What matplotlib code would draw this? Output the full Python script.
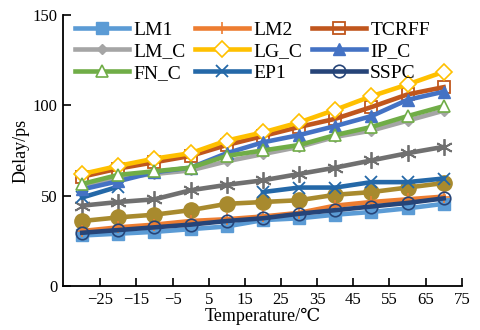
import numpy as np
import matplotlib
matplotlib.use("Agg")
import matplotlib.pyplot as plt

plt.rcParams['font.family'] = ['Liberation Serif', 'DejaVu Serif', 'DejaVu Sans', 'Noto Sans CJK SC']
plt.rcParams['mathtext.fontset'] = 'stix'

temps = [-30, -20, -10, 0, 10, 20, 30, 40, 50, 60, 70]
lm1 = [28, 29, 30, 31.5, 33, 36.5, 37.5, 39.5, 41, 43, 45.5]
lm2 = [30.5, 32.5, 34, 36, 37, 38.5, 40.5, 44.5, 46.5, 48, 49.5]
tcrff = [60.5, 65, 68.5, 72, 78, 83, 88, 92.5, 99, 106, 110]
lm_c = [55, 60, 62, 64, 69, 73, 77, 82.5, 86, 91.5, 97]
lg_c = [62, 66.5, 70.5, 73.5, 80.5, 85, 90.5, 97.5, 105, 111.5, 118.5]
ip_c = [53.5, 58, 63, 65.5, 73.5, 79.5, 83.5, 88.5, 94, 103, 107.5]
fn_c = [56.5, 61.5, 63.5, 65.5, 72, 75, 78, 83.5, 88, 94, 99.5]
ep1 = [49, 55, np.nan, np.nan, np.nan, 52, 54.5, 54.5, 57.5, 57.5, 59.5]
sspc = [29.5, 31, 32.5, 34, 36, 37.5, 40, 42, 44, 46, 48.5]
extra_gray = [44.5, 46.5, 48, 53, 56, 58.5, 62, 65.5, 69.5, 73.5, 77]
extra_gold = [36, 38, 39.5, 42, 45.5, 46.5, 47.5, 50.5, 52, 54.5, 57]

xticks = [-25, -15, -5, 5, 15, 25, 35, 45, 55, 65, 75]
yticks = [0, 50, 100, 150]

fig = plt.figure(figsize=(4.81, 3.30), dpi=100)
ax = fig.add_axes([0.131, 0.133, 0.829, 0.822])

lw = 3.3
# unlabeled series
ax.plot(temps, extra_gray, color='#707070', lw=lw, marker=(6, 2, 0), ms=12, mew=1.3, zorder=2)
ax.plot(temps, extra_gold, color='#A88A2E', lw=lw, marker='o', ms=11, mfc='#A88A2E', mec='#A88A2E', zorder=2)

h = {}
h['LM1'], = ax.plot(temps, lm1, color='#5B9BD5', lw=lw, marker='s', ms=9, label='LM1', zorder=3)
h['LM2'], = ax.plot(temps, lm2, color='#ED7D31', lw=lw, marker='+', ms=9, mew=1.2, label='LM2', zorder=3)
h['TCRFF'], = ax.plot(temps, tcrff, color='#C0561D', lw=lw, marker='s', ms=9, mfc='none', mew=1.3, label='TCRFF', zorder=3)
h['LM_C'], = ax.plot(temps, lm_c, color='#A5A5A5', lw=lw, marker='D', ms=5, label='LM_C', zorder=3)
h['LG_C'], = ax.plot(temps, lg_c, color='#FFC000', lw=lw, marker='D', ms=8, mfc='white', mew=1.2, label='LG_C', zorder=4)
h['IP_C'], = ax.plot(temps, ip_c, color='#4472C4', lw=lw, marker='^', ms=9, label='IP_C', zorder=4)
h['FN_C'], = ax.plot(temps, fn_c, color='#70AD47', lw=lw, marker='^', ms=9, mfc='white', mew=1.2, label='FN_C', zorder=4)
h['EP1'], = ax.plot(temps, ep1, color='#2468A8', lw=lw, marker='x', ms=9, mew=1.3, label='EP1', zorder=3)
h['SSPC'], = ax.plot(temps, sspc, color='#264478', lw=lw, marker='o', ms=9, mfc='none', mew=1.2, label='SSPC', zorder=4)

ax.set_xlim(-35.3, 75)
ax.set_ylim(0, 150)
ax.set_xticks(xticks)
ax.set_yticks(yticks)
ax.tick_params(direction='in', length=6, width=1.2, labelsize=12, pad=4)
for s in ['top', 'right']:
    ax.spines[s].set_visible(False)
for s in ['left', 'bottom']:
    ax.spines[s].set_linewidth(1.3)

ax.set_xlabel('Temperature/\u2103', fontsize=13, labelpad=0)
ax.set_ylabel('Delay/ps', fontsize=13, labelpad=2)

order = ['LM1', 'LM_C', 'FN_C', 'LM2', 'LG_C', 'EP1', 'TCRFF', 'IP_C', 'SSPC']
ax.legend([h[k] for k in order], order, ncol=3, loc='upper left', bbox_to_anchor=(0.0, 1.02), frameon=False,
          fontsize=14, handlelength=2.8, columnspacing=0.5, handletextpad=0.2,
          labelspacing=0.2, borderaxespad=0.2)

fig.savefig('out.png', dpi=100)
